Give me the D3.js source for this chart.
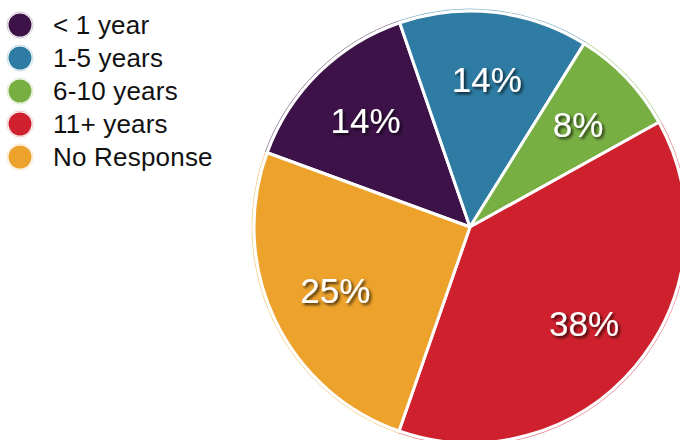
<!DOCTYPE html>
<html>
<head>
<meta charset="utf-8">
<script src="https://cdn.jsdelivr.net/npm/d3@7"></script>
<style>
  html, body { margin: 0; padding: 0; background: #fff; }
  svg { display: block; }
  text { font-family: "Liberation Sans", Arial, Helvetica, sans-serif; }
</style>
</head>
<body>
<svg id="chart" width="680" height="440"></svg>
<script>
// Tenure breakdown of respondents (percent)
const categories = ["< 1 year", "1-5 years", "6-10 years", "11+ years", "No Response"];
const values = [14, 14, 8, 38, 25];
const colors = ["#3d1249", "#2e7ca3", "#78af43", "#cf212d", "#eca22b"];

const width = 680, height = 440;
const cx = 470, cy = 227, radius = 216;
const deg = Math.PI / 180;

const svg = d3.select("#chart");

// Soft drop shadow for the in-slice percentage labels
const defs = svg.append("defs");
const shadow = defs.append("filter").attr("id", "labelShadow")
  .attr("x", "-20%").attr("y", "-20%").attr("width", "140%").attr("height", "160%");
shadow.append("feDropShadow")
  .attr("dx", 2).attr("dy", 2).attr("stdDeviation", 1.6)
  .attr("flood-color", "#000").attr("flood-opacity", 0.75);

const color = d3.scaleOrdinal().domain(categories).range(colors);

const pie = d3.pie()
  .sort(null)
  .value(d => d.value)
  .startAngle(-69.9 * deg)
  .endAngle(290.1 * deg);

const data = categories.map((c, i) => ({ category: c, value: values[i] }));
const arcs = pie(data);

const arc = d3.arc().innerRadius(0).outerRadius(radius);
const rim = d3.arc().innerRadius(radius + 2).outerRadius(radius + 2);
const labelArc = d3.arc().innerRadius(radius * 0.69).outerRadius(radius * 0.69);

const g = svg.append("g").attr("transform", `translate(${cx},${cy})`);

// faint tinted rim just outside each slice
g.selectAll("path.rim")
  .data(arcs)
  .join("path")
  .attr("class", "rim")
  .attr("d", rim)
  .attr("fill", "none")
  .attr("stroke", d => color(d.data.category))
  .attr("stroke-opacity", 0.3)
  .attr("stroke-width", 1);

g.selectAll("path.slice")
  .data(arcs)
  .join("path")
  .attr("class", "slice")
  .attr("d", arc)
  .attr("fill", d => color(d.data.category))
  .attr("stroke", "#fff")
  .attr("stroke-width", 3)
  .attr("stroke-linejoin", "round");

g.selectAll("text.pct")
  .data(arcs)
  .join("text")
  .attr("class", "pct")
  .attr("transform", d => `translate(${labelArc.centroid(d)})`)
  .attr("text-anchor", "middle")
  .attr("dy", "0.36em")
  .attr("fill", "#fff")
  .attr("font-size", 35)
  .attr("filter", "url(#labelShadow)")
  .text(d => d.data.value + "%");

// Legend
const legend = svg.append("g");
const rowY = d3.scalePoint().domain(categories).range([25, 157]);

const rows = legend.selectAll("g.row")
  .data(categories)
  .join("g")
  .attr("class", "row")
  .attr("transform", d => `translate(0,${rowY(d)})`);

rows.append("circle")
  .attr("cx", 20).attr("cy", 0).attr("r", 13)
  .attr("fill", "none")
  .attr("stroke", d => color(d))
  .attr("stroke-opacity", 0.25)
  .attr("stroke-width", 1);

rows.append("circle")
  .attr("cx", 20).attr("cy", 0).attr("r", 11.5)
  .attr("fill", d => color(d));

rows.append("text")
  .attr("x", 53).attr("y", 0)
  .attr("dy", "0.36em")
  .attr("font-size", 26)
  .attr("letter-spacing", 0.2)
  .attr("fill", "#111")
  .text(d => d);
</script>
</body>
</html>
